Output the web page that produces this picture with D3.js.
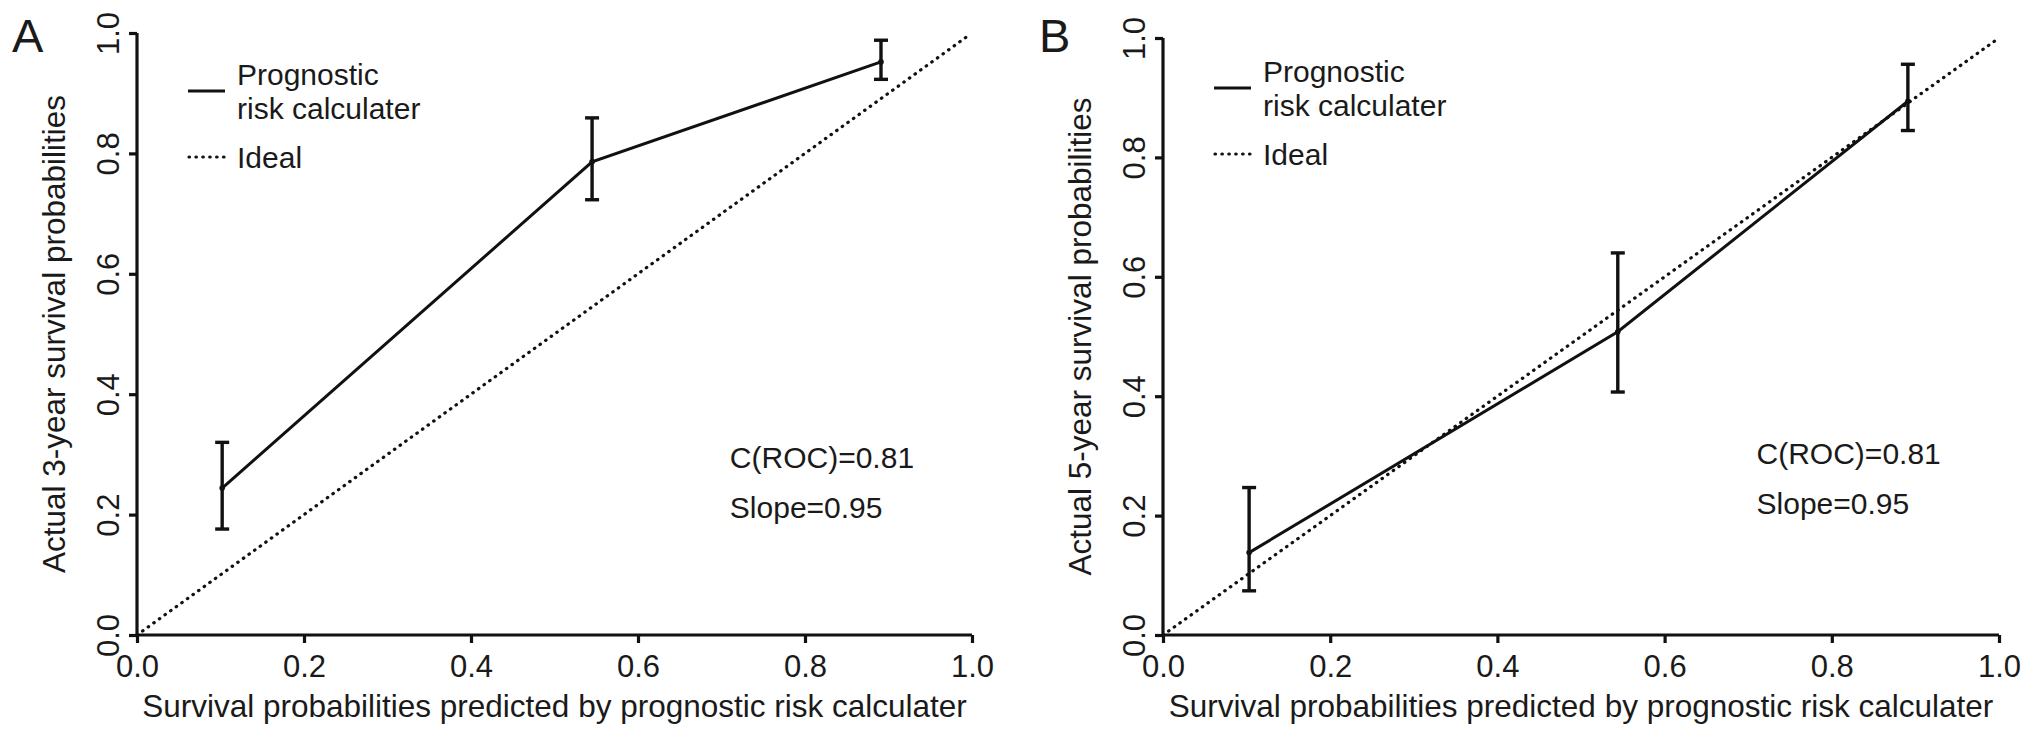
<!DOCTYPE html>
<html>
<head>
<meta charset="utf-8">
<script src="https://cdn.jsdelivr.net/npm/d3@7"></script>
<style>
  body { margin: 0; background: #fff; }
  svg text { font-family: "Liberation Sans", Arial, sans-serif; fill: #1a1a1a; }
  .axis path, .axis line { stroke: #111; stroke-width: 3.2; }
  .axis text { font-size: 31px; }
</style>
</head>
<body>
<svg id="fig" width="2032" height="737"></svg>
<script>
'use strict';

// shared tick values for both axes
const tickVals = [0, 0.2, 0.4, 0.6, 0.8, 1.0];
const xTitle = 'Survival probabilities predicted by prognostic risk calculater';
const legendLabels = [['Prognostic', 'risk calculater'], ['Ideal']];

// panel A - 3 year
const predA = [0.102, 0.545, 0.891];
const obsA = [0.244, 0.786, 0.952];
const lowA = [0.176, 0.723, 0.923];
const highA = [0.320, 0.859, 0.988];

// panel B - 5 year
const predB = [0.103, 0.544, 0.891];
const obsB = [0.138, 0.508, 0.894];
const lowB = [0.074, 0.407, 0.845];
const highB = [0.247, 0.640, 0.956];

const statsText = ['C(ROC)=0.81', 'Slope=0.95'];

const svg = d3.select('#fig');

const panels = [
    {letter: 'A', ytitle: 'Actual 3-year survival probabilities',
     pred: predA, obs: obsA, low: lowA, high: highA,
     x0: 137, x1: 972, y0: 635, y1: 33, lx: 12,
     leg_y: 91, stats_y: 468},
    {letter: 'B', ytitle: 'Actual 5-year survival probabilities',
     pred: predB, obs: obsB, low: lowB, high: highB,
     x0: 1163, x1: 1999, y0: 635, y1: 38, lx: 1039,
     leg_y: 88, stats_y: 464}
];

function drawPanel(p) {
    const x = d3.scaleLinear().domain([0, 1]).range([p.x0, p.x1]);
    const y = d3.scaleLinear().domain([0, 1]).range([p.y0, p.y1]);
    const g = svg.append('g');

    // panel letter
    g.append('text')
        .attr('x', p.lx).attr('y', 52)
        .style('font-size', '47px')
        .text(p.letter);

    // x axis
    const xa = g.append('g').attr('class', 'axis')
        .attr('transform', 'translate(0,' + p.y0 + ')')
        .call(d3.axisBottom(x).tickValues(tickVals).tickFormat(d3.format('.1f'))
            .tickSize(8).tickSizeOuter(0));
    xa.selectAll('text').attr('dy', null).attr('y', 42);

    // y axis, labels turned like R does
    const ya = g.append('g').attr('class', 'axis')
        .attr('transform', 'translate(' + p.x0 + ',0)')
        .call(d3.axisLeft(y).tickValues(tickVals).tickFormat(d3.format('.1f'))
            .tickSize(8).tickSizeOuter(0));
    ya.selectAll('text')
        .attr('x', null).attr('dy', null)
        .attr('text-anchor', 'middle')
        .attr('transform', 'translate(-18,0) rotate(-90)');
    ya.select('.domain').remove();
    ya.append('line')
        .attr('x1', 0).attr('x2', 0)
        .attr('y1', y(0)).attr('y2', y(1));
    xa.select('.domain').remove();
    xa.append('line')
        .attr('x1', x(0)).attr('x2', x(1))
        .attr('y1', 0).attr('y2', 0);

    // axis titles
    g.append('text')
        .attr('x', (p.x0 + p.x1) / 2).attr('y', p.y0 + 82)
        .attr('text-anchor', 'middle')
        .style('font-size', '31.5px')
        .text(xTitle);
    g.append('text')
        .attr('transform', 'translate(' + (p.x0 - 72) + ',' + ((p.y0 + p.y1) / 2) + ') rotate(-90)')
        .attr('text-anchor', 'middle')
        .style('font-size', '31.5px')
        .text(p.ytitle);

    // ideal line
    g.append('line')
        .attr('x1', x(0)).attr('y1', y(0))
        .attr('x2', x(0.997)).attr('y2', y(0.997))
        .attr('stroke', '#111').attr('stroke-width', 3.2)
        .attr('stroke-linecap', 'round')
        .attr('stroke-dasharray', '0.5,6.4');

    // calibration line
    const pts = p.pred.map((v, i) => [v, p.obs[i]]);
    g.append('path')
        .datum(pts)
        .attr('fill', 'none').attr('stroke', '#111').attr('stroke-width', 3)
        .attr('d', d3.line().x(d => x(d[0])).y(d => y(d[1])));

    g.selectAll('.pt').data(pts).enter()
        .append('circle')
        .attr('cx', d => x(d[0])).attr('cy', d => y(d[1]))
        .attr('r', 2.8).attr('fill', '#111');

    // error bars
    const bars = g.selectAll('.eb')
        .data(p.pred.map((v, i) => ({pred: v, low: p.low[i], high: p.high[i]})))
        .enter().append('g');
    bars.append('line')
        .attr('x1', d => x(d.pred)).attr('x2', d => x(d.pred))
        .attr('y1', d => y(d.low)).attr('y2', d => y(d.high))
        .attr('stroke', '#111').attr('stroke-width', 3.4);
    [d => d.low, d => d.high].forEach(f => {
        bars.append('line')
            .attr('x1', d => x(d.pred) - 7).attr('x2', d => x(d.pred) + 7)
            .attr('y1', d => y(f(d))).attr('y2', d => y(f(d)))
            .attr('stroke', '#111').attr('stroke-width', 3.4);
    });

    // legend
    const lx = p.x0 + 51;
    g.append('line')
        .attr('x1', lx).attr('x2', lx + 37)
        .attr('y1', p.leg_y).attr('y2', p.leg_y)
        .attr('stroke', '#111').attr('stroke-width', 3);
    g.append('line')
        .attr('x1', lx + 1).attr('x2', lx + 37)
        .attr('y1', p.leg_y + 66).attr('y2', p.leg_y + 66)
        .attr('stroke', '#111').attr('stroke-width', 3.2)
        .attr('stroke-linecap', 'round')
        .attr('stroke-dasharray', '0.5,6.4');
    // two-line label, spaced so the lines do not touch
    legendLabels[0].forEach((t, i) => {
        g.append('text')
            .attr('x', lx + 49).attr('y', p.leg_y - 6 + i * 34)
            .style('font-size', '30px')
            .text(t);
    });
    g.append('text')
        .attr('x', lx + 49).attr('y', p.leg_y + 77)
        .style('font-size', '30px')
        .text(legendLabels[1][0]);

    // stats
    statsText.forEach((t, i) => {
        g.append('text')
            .attr('x', x(0.71)).attr('y', p.stats_y + i * 50)
            .style('font-size', '30px')
            .text(t);
    });
}

panels.forEach(drawPanel);
</script>
</body>
</html>
